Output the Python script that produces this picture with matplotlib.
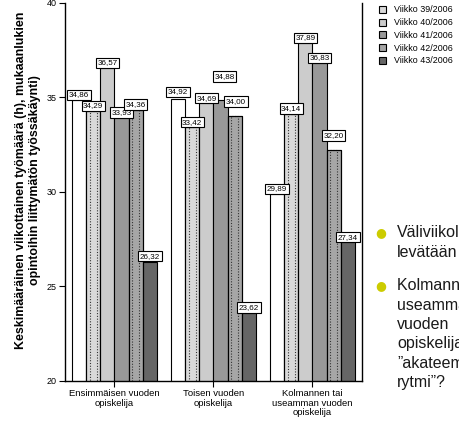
import matplotlib
matplotlib.use('Agg')
import matplotlib.pyplot as plt
import numpy as np

plt.rcParams['font.family'] = ['Liberation Sans', 'DejaVu Sans']

# data
categories = ['Ensimmäisen vuoden\nopiskelija', 'Toisen vuoden\nopiskelija',
              'Kolmannen tai\nuseamman vuoden\nopiskelija']
weeks = ['Viikko 38/2006', 'Viikko 39/2006', 'Viikko 40/2006',
         'Viikko 41/2006', 'Viikko 42/2006', 'Viikko 43/2006']
w38 = [34.86, 34.92, 29.89]
w39 = [34.29, 33.42, 34.14]
w40 = [36.57, 34.69, 37.89]
w41 = [33.93, 34.88, 36.83]
w42 = [34.36, 34.00, 32.20]
w43 = [26.32, 23.62, 27.34]
series = [w38, w39, w40, w41, w42, w43]

y_ticks = [20, 25, 30, 35, 40]
bullets = [['Väliviikolla', 'levätään'],
           ['Kolmannen tai', 'useamman', 'vuoden', 'opiskelijan',
            '”akateeminen', 'rytmi”?']]

# look of each series: fill colour, dotted pattern or not
fills = ['white', '#d9d9d9', '#cccccc', '#999999', '#a6a6a6', '#666666']
dotted = [False, True, False, False, True, False]
# label nudges (points) where the original labels were moved by hand
nudge = {(1, 3): (3, 13), (1, 4): (1, 7), (2, 4): (0, 7), (1, 0): (0, 1.5)}

W, H = 460, 421
fig = plt.figure(figsize=(W / 100, H / 100), dpi=100)
ax = fig.add_axes([65 / W, 1 - 381 / H, (362 - 65) / W, (381 - 3) / H])

x = np.arange(len(categories))
bw = 1 / 7
handles = []
for i, vals in enumerate(series):
    pos = x + (i - 2.5) * bw
    b = ax.bar(pos, vals, bw, bottom=0, color=fills[i], edgecolor='black',
               linewidth=0.8, label=weeks[i], zorder=1)
    handles.append(b)
    if dotted[i]:
        ax.bar(pos, vals, bw * 0.5, fill=False, edgecolor='#333333',
               linewidth=0.8, linestyle=(0, (1, 1.5)), zorder=1.5)
        ax.bar(pos, vals, bw, fill=False, edgecolor='black',
               linewidth=0.8, zorder=1.6)

for i, vals in enumerate(series):
    pos = x + (i - 2.5) * bw
    for g, (px, v) in enumerate(zip(pos, vals)):
        dx, dy = nudge.get((g, i), (0, 0))
        ax.annotate(f'{v:.2f}'.replace('.', ','), (px, v),
                    xytext=(dx, 1.2 + dy), textcoords='offset points',
                    ha='center', va='bottom', fontsize=5.8,
                    bbox=dict(boxstyle='square,pad=0.2', fc='white',
                              ec='black', lw=0.8), zorder=5)

ax.set_xlim(-0.5, 2.5)
ax.set_ylim(20, 40)
ax.set_yticks(y_ticks)
ax.set_yticklabels([str(t) for t in y_ticks], fontsize=6.5)
ax.set_xticks(x)
ax.set_xticklabels(categories, fontsize=6.8, linespacing=1.05)
ax.tick_params(axis='both', length=4, width=0.8, direction='out', pad=2)
ax.spines['top'].set_visible(False)
for s in ['left', 'bottom', 'right']:
    ax.spines[s].set_linewidth(1.0)

fig.text(28 / W, 1 - 180 / H,
         'Keskimääräinen viikottainen työmäärä (h), mukaanlukien\n'
         'opintoihin liittymätön työssäkäynti)',
         rotation=90, ha='center', va='center', multialignment='center',
         fontsize=8.9, fontweight='bold', linespacing=1.12)

fig.legend(handles[1:], weeks[1:], loc='upper left',
           bbox_to_anchor=(379 / W, 1 - 5.5 / H), frameon=False,
           fontsize=6.4, handlelength=0.8, handleheight=0.8,
           handletextpad=0.9, labelspacing=0.42, borderpad=0,
           borderaxespad=0)

# bullet text on the right, cut by the slide edge as in the slide
y = 233
for para in bullets:
    fig.text(381 / W, 1 - y / H, '\u25cf', color='#cccc00', fontsize=9,
             ha='center', va='center', family='DejaVu Sans')
    for line in para:
        fig.text(397 / W, 1 - y / H, line, fontsize=11.5, color='#1a1a1a',
                 ha='left', va='center')
        y += 19.4
    y += 14

fig.savefig('out.png', dpi=100)
